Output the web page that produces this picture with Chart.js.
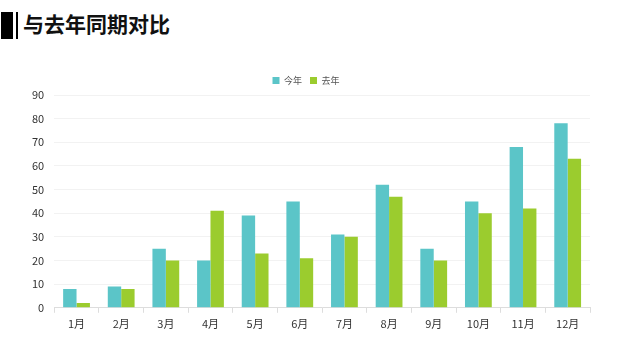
<!DOCTYPE html>
<html><head><meta charset="utf-8">
<script src="https://cdn.jsdelivr.net/npm/chart.js@4/dist/chart.umd.min.js"></script>
<style>
html,body{margin:0;padding:0;background:#fff;width:635px;height:358px;overflow:hidden;font-family:"Noto Sans CJK SC","Noto Sans",sans-serif;}
#bar1{position:absolute;left:1px;top:12px;width:12px;height:27px;background:#000;}
#bar2{position:absolute;left:16px;top:12px;width:2px;height:27px;background:#000;}
#title{position:absolute;left:23px;top:8px;font-size:21px;font-weight:bold;color:#111;line-height:30px;}
#wrap{position:absolute;left:0;top:64px;width:635px;height:294px;}
</style></head><body>
<div id="bar1"></div><div id="bar2"></div>
<div id="title">与去年同期对比</div>
<div id="wrap"><canvas id="c"></canvas></div>
<script>
const categories=["1月","2月","3月","4月","5月","6月","7月","8月","9月","10月","11月","12月"];
const thisYear=[8,9,25,20,39,45,31,52,25,45,68,78];
const lastYear=[2,8,20,41,23,21,30,47,20,40,42,63];
const seriesNames=["今年","去年"];
const font="'Noto Sans CJK SC','Noto Sans',sans-serif";
new Chart(document.getElementById('c'),{
 type:'bar',
 data:{labels:categories,datasets:[
  {label:seriesNames[0],data:thisYear,backgroundColor:'#5BC5C8',barPercentage:1,categoryPercentage:0.6},
  {label:seriesNames[1],data:lastYear,backgroundColor:'#9BCC2E',barPercentage:1,categoryPercentage:0.6}
 ]},
 options:{responsive:true,maintainAspectRatio:false,animation:false,
  layout:{padding:{left:22,right:45,top:4,bottom:24}},
  plugins:{legend:{position:'top',labels:{boxWidth:7,boxHeight:7,font:{family:font,size:9},color:'#555',padding:8}},tooltip:{enabled:false}},
  scales:{
   x:{grid:{display:true,drawOnChartArea:false,color:'#ddd',tickLength:5,offset:true},border:{color:'#ddd'},ticks:{font:{family:font,size:11},color:'#333',padding:4}},
   y:{min:0,max:90,ticks:{stepSize:10,font:{family:font,size:11},color:'#333',padding:10},grid:{color:'#f2f2f2',drawTicks:false},border:{display:false}}
  }
 }
});
</script>
</body></html>
